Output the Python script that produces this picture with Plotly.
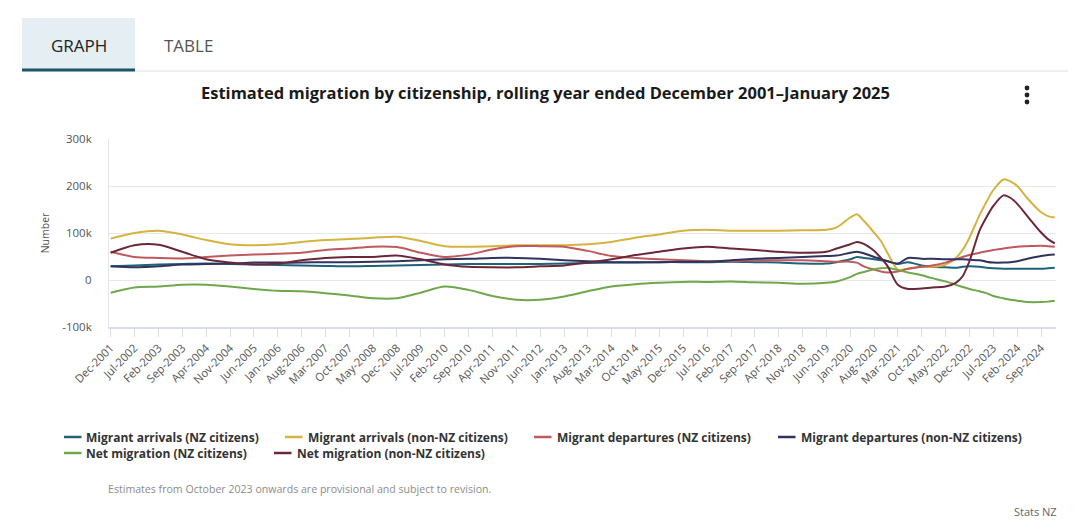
import plotly.graph_objects as go

# ---- data (values in thousands of people) ----
dates = ["2001-12-01", "2002-07-01", "2003-02-01", "2003-09-01", "2004-04-01", "2004-11-01",
         "2005-06-01", "2006-01-01", "2006-08-01", "2007-03-01", "2007-10-01", "2008-05-01",
         "2008-12-01", "2009-07-01", "2010-02-01", "2010-09-01", "2011-04-01", "2011-11-01",
         "2012-06-01", "2013-01-01", "2013-08-01", "2014-03-01", "2014-10-01", "2015-05-01",
         "2015-12-01", "2016-07-01", "2017-02-01", "2017-09-01", "2018-04-01", "2018-11-01",
         "2019-06-01",
         "2019-09-01", "2020-01-01", "2020-03-01", "2020-05-01", "2020-08-01", "2020-10-01",
         "2020-12-01", "2021-03-01", "2021-06-01", "2021-10-01", "2022-01-01", "2022-05-01",
         "2022-08-01", "2022-10-01", "2022-12-01", "2023-03-01", "2023-05-01", "2023-07-01",
         "2023-10-01", "2023-12-01", "2024-02-01", "2024-05-01", "2024-09-01", "2024-11-01",
         "2025-01-01"]

arrivals_nz = [29, 31, 33, 34, 35, 34, 33, 32, 31, 30, 29, 30, 31, 32, 33, 34, 34, 34, 34, 35,
               36, 37, 37, 38, 38, 38, 39, 38, 37, 35, 35,
               38, 44, 49, 47, 44, 42, 40, 34, 38, 31, 28, 27, 26, 28, 29, 28, 26, 25, 24, 24,
               24, 24, 24, 25, 26]
arrivals_non_nz = [88, 100, 105, 97, 85, 76, 74, 76, 81, 85, 87, 90, 92, 83, 72, 71, 72, 74, 74,
                   74, 76, 81, 90, 97, 105, 107, 105, 105, 105, 106, 107,
                   112, 133, 140, 126, 101, 83, 57, 22, 24, 28, 28, 33, 47, 64, 90, 138, 166,
                   191, 214, 210, 200, 174, 144, 136, 133]
departures_nz = [60, 49, 47, 46, 49, 52, 54, 56, 58, 64, 67, 71, 70, 58, 49, 54, 65, 72, 72, 71,
                 62, 51, 47, 44, 42, 40, 40, 42, 42, 42, 40,
                 39, 39, 37, 29, 22, 18, 16, 18, 24, 28, 31, 37, 44, 49, 53, 58, 61, 64, 67,
                 69, 71, 72, 73, 72, 71]
departures_non_nz = [29, 27, 29, 33, 34, 35, 37, 37, 37, 38, 38, 39, 40, 42, 44, 45, 47, 47, 45,
                     42, 40, 38, 38, 38, 39, 39, 42, 45, 47, 49, 51,
                     52, 58, 60, 57, 49, 45, 40, 35, 47, 45, 45, 44, 44, 44, 43, 42, 39, 37, 37,
                     38, 40, 45, 51, 53, 54]
net_nz = [-27, -16, -14, -10, -10, -14, -19, -23, -24, -28, -33, -39, -39, -27, -14, -21, -34,
          -42, -42, -35, -24, -14, -9, -6, -4, -4, -3, -5, -6, -8, -6,
          -3, 6, 13, 17, 23, 25, 26, 21, 16, 10, 4, -3, -10, -15, -19, -24, -28, -34, -39,
          -42, -44, -47, -47, -46, -44]
net_non_nz = [58, 74, 75, 60, 44, 37, 33, 35, 42, 47, 49, 49, 52, 44, 33, 28, 27, 27, 29, 31,
              37, 44, 53, 60, 67, 71, 67, 64, 60, 58, 60,
              67, 76, 81, 77, 62, 47, 29, -10, -19, -18, -16, -14, -6, 8, 40, 105, 133, 157,
              180, 175, 162, 136, 101, 87, 78]

series_names = ["Migrant arrivals (NZ citizens)", "Migrant arrivals (non-NZ citizens)",
                "Migrant departures (NZ citizens)", "Migrant departures (non-NZ citizens)",
                "Net migration (NZ citizens)", "Net migration (non-NZ citizens)"]
series_values = [arrivals_nz, arrivals_non_nz, departures_nz, departures_non_nz, net_nz, net_non_nz]
series_colors = ["#1f6279", "#d6b23f", "#c0595d", "#2f335e", "#6fa84b", "#6b2737"]

tick_dates = ["2001-12-01", "2002-07-01", "2003-02-01", "2003-09-01", "2004-04-01", "2004-11-01",
              "2005-06-01", "2006-01-01", "2006-08-01", "2007-03-01", "2007-10-01", "2008-05-01",
              "2008-12-01", "2009-07-01", "2010-02-01", "2010-09-01", "2011-04-01", "2011-11-01",
              "2012-06-01", "2013-01-01", "2013-08-01", "2014-03-01", "2014-10-01", "2015-05-01",
              "2015-12-01", "2016-07-01", "2017-02-01", "2017-09-01", "2018-04-01", "2018-11-01",
              "2019-06-01", "2020-01-01", "2020-08-01", "2021-03-01", "2021-10-01", "2022-05-01",
              "2022-12-01", "2023-07-01", "2024-02-01", "2024-09-01"]
tick_labels = ["Dec-2001", "Jul-2002", "Feb-2003", "Sep-2003", "Apr-2004", "Nov-2004",
               "Jun-2005", "Jan-2006", "Aug-2006", "Mar-2007", "Oct-2007", "May-2008",
               "Dec-2008", "Jul-2009", "Feb-2010", "Sep-2010", "Apr-2011", "Nov-2011",
               "Jun-2012", "Jan-2013", "Aug-2013", "Mar-2014", "Oct-2014", "May-2015",
               "Dec-2015", "Jul-2016", "Feb-2017", "Sep-2017", "Apr-2018", "Nov-2018",
               "Jun-2019", "Jan-2020", "Aug-2020", "Mar-2021", "Oct-2021", "May-2022",
               "Dec-2022", "Jul-2023", "Feb-2024", "Sep-2024"]
y_ticks = [-100000, 0, 100000, 200000, 300000]
y_tick_labels = ["-100k", "0", "100k", "200k", "300k"]

FONT = "Open Sans"
OFF = 8                      # default body margin of the html page
W, H = 1076 - 2 * OFF, 529 - 2 * OFF
L, R, T, B = 109, 1056, 139, 327   # plot area in page pixels


def px(xp):
    return (xp - L) / (R - L)


def py(yp):
    return (B - yp) / (B - T)


fig = go.Figure()
for name, vals, col in zip(series_names, series_values, series_colors):
    fig.add_trace(go.Scatter(x=dates, y=[v * 1000 for v in vals], name=name, mode="lines",
                             line=dict(color=col, width=2, shape="spline", smoothing=0.8),
                             showlegend=False))

shapes = [
    dict(type="rect", xref="paper", yref="paper", x0=px(22), x1=px(135), y0=py(70), y1=py(18),
         fillcolor="#e5eef2", line=dict(width=0), layer="below"),
    dict(type="line", xref="paper", yref="paper", x0=px(135), x1=px(1068), y0=py(71), y1=py(71),
         line=dict(color="#dedede", width=1)),
    dict(type="line", xref="paper", yref="paper", x0=px(22), x1=px(135), y0=py(70), y1=py(70),
         line=dict(color="#1b5566", width=3)),
]
for cy in (88, 95, 102):
    shapes.append(dict(type="circle", xref="paper", yref="paper", x0=px(1024.6), x1=px(1029.4),
                       y0=py(cy + 2.4), y1=py(cy - 2.4), fillcolor="#222222",
                       line=dict(width=0)))

annotations = [
    dict(text="GRAPH", x=px(79), y=py(45), xref="paper", yref="paper", showarrow=False,
         font=dict(family=FONT, size=17, color="#222222"), xanchor="center", yanchor="middle"),
    dict(text="TABLE", x=px(188), y=py(45), xref="paper", yref="paper", showarrow=False,
         font=dict(family=FONT, size=17, color="#555555"), xanchor="center", yanchor="middle"),
    dict(text="<b>Estimated migration by citizenship, rolling year ended December 2001\u2013January 2025</b>",
         x=px(545), y=py(92), xref="paper", yref="paper", showarrow=False,
         font=dict(family=FONT, size=16.5, color="#1a1a1a"), xanchor="center", yanchor="middle"),
    dict(text="Estimates from October 2023 onwards are provisional and subject to revision.",
         x=px(106), y=py(489), xref="paper", yref="paper", showarrow=False,
         font=dict(family=FONT, size=10.6, color="#8c8c8c"), xanchor="left", yanchor="middle"),
    dict(text="Stats NZ", x=px(1059), y=py(511), xref="paper", yref="paper", showarrow=False,
         font=dict(family=FONT, size=11, color="#666666"), xanchor="right", yanchor="middle"),
]

# legend drawn as line swatches + bold labels, laid out like the reference (2 rows)
legend_rows = [437, 437, 437, 437, 453, 453]
legend_line_x = [64, 285, 534, 778, 64, 274]
legend_text_x = [84, 306, 555, 799, 84, 295]
for name, col, ly, lx, tx in zip(series_names, series_colors, legend_rows, legend_line_x,
                                 legend_text_x):
    shapes.append(dict(type="line", xref="paper", yref="paper", x0=px(lx), x1=px(lx + 17.5),
                       y0=py(ly), y1=py(ly), line=dict(color=col, width=2.5)))
    annotations.append(dict(text="<b>" + name + "</b>", x=px(tx), y=py(ly), xref="paper",
                            yref="paper", showarrow=False, xanchor="left", yanchor="middle",
                            font=dict(family=FONT, size=12, color="#333333")))

fig.update_layout(
    width=W, height=H,
    margin=dict(l=L - OFF, r=(W + OFF) - R, t=T - OFF, b=(H + OFF) - B),
    paper_bgcolor="white", plot_bgcolor="white",
    font=dict(family=FONT, color="#555555"),
    showlegend=False,
    shapes=shapes,
    annotations=annotations,
    hovermode="x",
)
fig.update_xaxes(
    type="date", range=["2001-11-16", "2025-01-12"],
    tickvals=tick_dates, ticktext=tick_labels, tickangle=-45,
    tickfont=dict(family=FONT, size=11.3, color="#555555"),
    ticks="outside", ticklen=8, tickcolor="#d9dee6", tickwidth=1,
    showgrid=False, showline=True, linecolor="#d9dee6", linewidth=2, zeroline=False,
)
fig.update_yaxes(
    range=[-100000, 300000], tickvals=y_ticks, ticktext=y_tick_labels,
    tickfont=dict(family=FONT, size=11.5, color="#555555"),
    ticks="outside", ticklen=14, tickcolor="rgba(0,0,0,0)",
    showgrid=True, gridcolor="#e6e8ec", gridwidth=1,
    showline=True, linecolor="#e2e5ea", linewidth=1, zeroline=False,
    title=dict(text="Number", font=dict(family=FONT, size=10.5, color="#555555"), standoff=10),
)

fig.write_html("out.html")
